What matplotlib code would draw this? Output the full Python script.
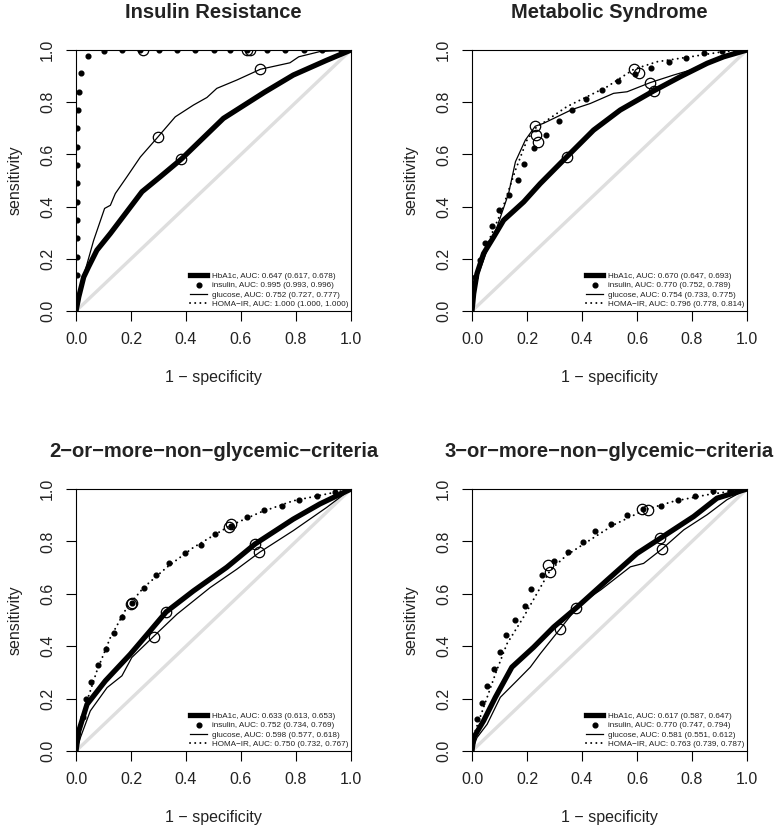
import matplotlib
matplotlib.use("Agg")
import matplotlib.pyplot as plt
from matplotlib.lines import Line2D

plt.rcParams['font.family'] = ['Liberation Sans', 'DejaVu Sans']

# ---------------- data ----------------
titles = ["Insulin Resistance", "Metabolic Syndrome",
          "2\u2212or\u2212more\u2212non\u2212glycemic\u2212criteria",
          "3\u2212or\u2212more\u2212non\u2212glycemic\u2212criteria"]
tick_vals = [0.0, 0.2, 0.4, 0.6, 0.8, 1.0]
tick_labels = ["0.0", "0.2", "0.4", "0.6", "0.8", "1.0"]
series_names = ["HbA1c", "insulin", "glucose", "HOMA\u2212IR"]

# Panel 1: Insulin Resistance
ir_auc = ["0.647 (0.617, 0.678)", "0.995 (0.993, 0.996)",
          "0.752 (0.727, 0.777)", "1.000 (1.000, 1.000)"]
ir_hba1c_x = [0, 0.01, 0.028, 0.046, 0.076, 0.125, 0.24, 0.306, 0.383, 0.536, 0.685, 0.79, 0.91, 1.0]
ir_hba1c_y = [0, 0.054, 0.13, 0.17, 0.233, 0.297, 0.457, 0.514, 0.582, 0.738, 0.838, 0.904, 0.96, 1.0]
ir_insulin_x = [0.004, 0.004, 0.004, 0.004, 0.004, 0.004, 0.004, 0.004, 0.004, 0.006, 0.011, 0.019, 0.043,
                0.1, 0.167, 0.234, 0.3, 0.366, 0.434, 0.5, 0.561, 0.622, 0.695, 0.761, 0.828, 0.895, 0.962]
ir_insulin_y = [0.138, 0.208, 0.279, 0.349, 0.419, 0.489, 0.559, 0.63, 0.70, 0.77, 0.84, 0.911, 0.977,
                0.998, 1, 1, 1, 1, 1, 1, 1, 1, 1, 1, 1, 1, 1]
ir_glucose_x = [0, 0.016, 0.04, 0.064, 0.104, 0.125, 0.143, 0.185, 0.234, 0.298, 0.361, 0.427, 0.476, 0.512,
                0.585, 0.67, 0.778, 0.81, 0.887, 1.0]
ir_glucose_y = [0, 0.092, 0.18, 0.27, 0.393, 0.405, 0.45, 0.514, 0.59, 0.667, 0.744, 0.789, 0.818, 0.853,
                0.885, 0.926, 0.951, 0.974, 0.994, 1.0]
ir_homa_x = [0, 0, 1.0]
ir_homa_y = [0, 1.0, 1.0]
ir_circle_x = [0.383, 0.298, 0.67, 0.245, 0.622, 0.633]
ir_circle_y = [0.582, 0.667, 0.926, 1.0, 1.0, 1.0]

# Panel 2: Metabolic Syndrome
ms_auc = ["0.670 (0.647, 0.693)", "0.770 (0.752, 0.789)",
          "0.754 (0.733, 0.775)", "0.796 (0.778, 0.814)"]
ms_hba1c_x = [0, 0.006, 0.018, 0.042, 0.079, 0.115, 0.188, 0.248, 0.345, 0.442, 0.539, 0.66, 0.758, 0.855, 0.915, 1.0]
ms_hba1c_y = [0, 0.066, 0.143, 0.22, 0.284, 0.348, 0.418, 0.488, 0.591, 0.693, 0.77, 0.843, 0.898, 0.949, 0.974, 1.0]
ms_insulin_x = [0.012, 0.028, 0.048, 0.073, 0.099, 0.133, 0.167, 0.19, 0.225, 0.27, 0.315, 0.364, 0.416,
                0.473, 0.53, 0.594, 0.651, 0.715, 0.779, 0.842, 0.909]
ms_insulin_y = [0.13, 0.197, 0.261, 0.325, 0.386, 0.444, 0.501, 0.565, 0.625, 0.676, 0.729, 0.77, 0.811,
                0.847, 0.881, 0.907, 0.93, 0.953, 0.971, 0.99, 0.997]
ms_glucose_x = [0, 0.006, 0.024, 0.055, 0.091, 0.133, 0.158, 0.194, 0.23, 0.26, 0.309, 0.364, 0.43, 0.515,
                0.564, 0.648, 0.733, 0.794, 0.879, 1.0]
ms_glucose_y = [0, 0.054, 0.143, 0.233, 0.322, 0.45, 0.572, 0.655, 0.708, 0.719, 0.744, 0.772, 0.795, 0.834,
                0.84, 0.875, 0.904, 0.923, 0.955, 1.0]
ms_homa_x = [0, 0.006, 0.03, 0.067, 0.109, 0.158, 0.2, 0.23, 0.273, 0.345, 0.418, 0.491, 0.588, 0.673, 0.794, 0.915, 1.0]
ms_homa_y = [0, 0.105, 0.194, 0.284, 0.386, 0.54, 0.655, 0.7, 0.731, 0.783, 0.821, 0.859, 0.926, 0.955, 0.974, 0.994, 1.0]
ms_circle_x = [0.345, 0.66, 0.23, 0.648, 0.232, 0.24, 0.588, 0.606]
ms_circle_y = [0.591, 0.843, 0.708, 0.875, 0.676, 0.648, 0.926, 0.91]

# Panel 3: 2-or-more
c2_auc = ["0.633 (0.613, 0.653)", "0.752 (0.734, 0.769)",
          "0.598 (0.577, 0.618)", "0.750 (0.732, 0.767)"]
c2_hba1c_x = [0, 0.01, 0.04, 0.107, 0.197, 0.27, 0.328, 0.427, 0.548, 0.651, 0.79, 0.887, 1.0]
c2_hba1c_y = [0, 0.076, 0.178, 0.268, 0.369, 0.459, 0.531, 0.611, 0.701, 0.79, 0.885, 0.943, 1.0]
c2_insulin_x = [0.024, 0.035, 0.054, 0.079, 0.108, 0.137, 0.167, 0.203, 0.246, 0.291, 0.339, 0.395, 0.453,
                0.507, 0.564, 0.623, 0.684, 0.748, 0.812, 0.878, 0.942]
c2_insulin_y = [0.13, 0.197, 0.265, 0.327, 0.389, 0.452, 0.51, 0.563, 0.622, 0.673, 0.718, 0.755, 0.786,
                0.828, 0.86, 0.894, 0.92, 0.936, 0.958, 0.972, 0.99]
c2_glucose_x = [0, 0.016, 0.052, 0.113, 0.167, 0.203, 0.282, 0.367, 0.488, 0.585, 0.667, 0.79, 0.912, 1.0]
c2_glucose_y = [0, 0.051, 0.153, 0.242, 0.287, 0.357, 0.437, 0.522, 0.624, 0.694, 0.758, 0.841, 0.93, 1.0]
c2_homa_x = [0, 0.016, 0.04, 0.076, 0.125, 0.185, 0.246, 0.33, 0.427, 0.56, 0.67, 0.79, 0.912, 1.0]
c2_homa_y = [0, 0.102, 0.191, 0.306, 0.433, 0.548, 0.624, 0.701, 0.777, 0.86, 0.911, 0.955, 0.981, 1.0]
c2_circle_x = [0.328, 0.651, 0.282, 0.667, 0.203, 0.2, 0.564, 0.558]
c2_circle_y = [0.531, 0.79, 0.437, 0.758, 0.563, 0.56, 0.866, 0.855]

# Panel 4: 3-or-more
c3_auc = ["0.617 (0.587, 0.647)", "0.770 (0.747, 0.794)",
          "0.581 (0.551, 0.612)", "0.763 (0.739, 0.787)"]
c3_hba1c_x = [0, 0.006, 0.042, 0.085, 0.145, 0.224, 0.297, 0.379, 0.491, 0.6, 0.685, 0.806, 0.891, 1.0]
c3_hba1c_y = [0, 0.051, 0.115, 0.205, 0.32, 0.396, 0.473, 0.546, 0.652, 0.754, 0.812, 0.895, 0.965, 1.0]
c3_insulin_x = [0.018, 0.036, 0.055, 0.079, 0.1, 0.122, 0.158, 0.192, 0.216, 0.255, 0.297, 0.349, 0.404,
                0.448, 0.507, 0.564, 0.622, 0.686, 0.749, 0.812, 0.876, 0.939]
c3_insulin_y = [0.121, 0.185, 0.249, 0.313, 0.377, 0.441, 0.499, 0.554, 0.618, 0.671, 0.725, 0.761, 0.797,
                0.841, 0.867, 0.902, 0.923, 0.936, 0.959, 0.974, 0.991, 0.997]
c3_glucose_x = [0, 0.018, 0.055, 0.103, 0.164, 0.212, 0.248, 0.321, 0.394, 0.467, 0.576, 0.624, 0.691, 0.77,
                0.855, 0.927, 1.0]
c3_glucose_y = [0, 0.051, 0.102, 0.205, 0.269, 0.32, 0.371, 0.467, 0.563, 0.614, 0.703, 0.716, 0.771, 0.844,
                0.902, 0.959, 1.0]
c3_homa_x = [0, 0.012, 0.042, 0.085, 0.127, 0.188, 0.236, 0.285, 0.345, 0.43, 0.515, 0.63, 0.733, 0.855, 1.0]
c3_homa_y = [0, 0.077, 0.166, 0.294, 0.409, 0.512, 0.601, 0.691, 0.748, 0.806, 0.863, 0.921, 0.953, 0.978, 1.0]
c3_circle_x = [0.379, 0.685, 0.321, 0.691, 0.282, 0.275, 0.618, 0.64]
c3_circle_y = [0.546, 0.812, 0.467, 0.771, 0.684, 0.71, 0.923, 0.918]

panels = [
    (ir_hba1c_x, ir_hba1c_y, ir_insulin_x, ir_insulin_y, ir_glucose_x, ir_glucose_y,
     ir_homa_x, ir_homa_y, ir_circle_x, ir_circle_y, ir_auc),
    (ms_hba1c_x, ms_hba1c_y, ms_insulin_x, ms_insulin_y, ms_glucose_x, ms_glucose_y,
     ms_homa_x, ms_homa_y, ms_circle_x, ms_circle_y, ms_auc),
    (c2_hba1c_x, c2_hba1c_y, c2_insulin_x, c2_insulin_y, c2_glucose_x, c2_glucose_y,
     c2_homa_x, c2_homa_y, c2_circle_x, c2_circle_y, c2_auc),
    (c3_hba1c_x, c3_hba1c_y, c3_insulin_x, c3_insulin_y, c3_glucose_x, c3_glucose_y,
     c3_homa_x, c3_homa_y, c3_circle_x, c3_circle_y, c3_auc),
]

# ---------------- plotting ----------------
W, H = 777, 830
fig = plt.figure(figsize=(W / 100, H / 100), dpi=100)

# axes boxes in pixels: (left, top, right, bottom)
boxes = [(76, 50, 351, 311), (472, 50, 747, 311),
         (76, 489, 351, 751), (472, 489, 747, 751)]

thick_lw = 3.8
thin_lw = 0.9
dot_lw = 1.4
dot_ls = (0, (0.05, 2.6))

for i, (box, data, title) in enumerate(zip(boxes, panels, titles)):
    l, t, r, b = box
    ax = fig.add_axes([l / W, 1 - b / H, (r - l) / W, (b - t) / H])
    hx, hy, ix, iy, gx, gy, mx, my, cx, cy, aucs = data

    ax.plot([0, 1], [0, 1], color="#dedede", lw=2.4, zorder=1, solid_capstyle="butt")
    ax.plot(hx, hy, color="black", lw=thick_lw, zorder=3, solid_joinstyle="round")
    ax.plot(gx, gy, color="black", lw=thin_lw, zorder=3)
    ax.plot(mx, my, color="black", lw=dot_lw, linestyle=dot_ls, dash_capstyle="round", zorder=3)
    ax.plot(ix, iy, linestyle="none", marker="o", ms=3.4, color="black", zorder=4)
    ax.plot(cx, cy, linestyle="none", marker="o", ms=7.5, mfc="none", mec="black", mew=0.9, zorder=5)

    ax.set_xlim(0, 1)
    ax.set_ylim(0, 1)
    ax.set_xticks(tick_vals)
    ax.set_xticklabels(tick_labels)
    ax.set_yticks(tick_vals)
    ax.set_yticklabels(tick_labels, rotation=90, va="center")
    ax.tick_params(direction="out", length=7, width=0.8, labelsize=11.5, pad=8,
                   colors="black", labelcolor="#222222")
    for s in ax.spines.values():
        s.set_linewidth(0.8)
    ax.set_xlabel("1 \u2212 specificity", fontsize=11.5, labelpad=17, color="#222222")
    ax.set_ylabel("sensitivity", fontsize=11.5, labelpad=13, color="#222222")
    ax.set_title(title, fontsize=14.5, fontweight="bold", pad=23, color="#222222")

    handles = [
        Line2D([0], [0], color="black", lw=thick_lw),
        Line2D([0], [0], color="black", lw=0, marker="o", ms=3.4),
        Line2D([0], [0], color="black", lw=thin_lw),
        Line2D([0], [0], color="black", lw=dot_lw, linestyle=dot_ls, dash_capstyle="round"),
    ]
    labels = [f"{n}, AUC: {a}" for n, a in zip(series_names, aucs)]
    ax.legend(handles, labels, loc="lower right", frameon=False, fontsize=5.9,
              handlelength=2.0, handletextpad=0.6, labelspacing=0.2,
              borderaxespad=0.15, borderpad=0.2, labelcolor="#222222")

fig.savefig("out.png", dpi=100)
